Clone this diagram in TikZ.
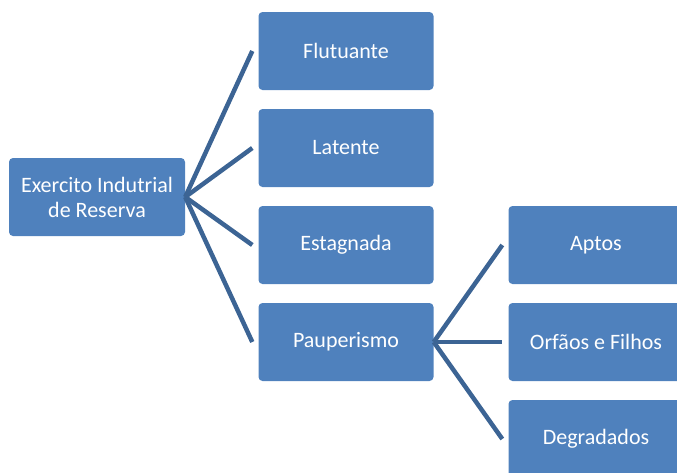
\documentclass[tikz,border=0pt]{standalone}
\usepackage{fontspec}
\setmainfont{Carlito}
\usepackage{tikz}
\definecolor{boxblue}{HTML}{4F81BD}
\definecolor{linkblue}{HTML}{3C6494}

\begin{document}
\begin{tikzpicture}[x=1pt, y=-1pt,
    box/.style={draw=none, fill=boxblue, rounded corners=4pt, text=white,
      minimum width=175pt, minimum height=78pt, inner sep=0pt, align=center,
      font=\fontsize{22}{25}\selectfont},
    link/.style={draw=linkblue, line width=4.5pt}]
    \useasboundingbox (0, 0) rectangle (677, 472);
    \node[box, minimum width=176pt] (res) at (97, 197) {Exercito Indutrial\\de Reserva};
    \node[box] (flu) at (346, 51) {Flutuante};
    \node[box] (lat) at (346, 148) {Latente};
    \node[box] (est) at (346, 245) {Estagnada};
    \node[box] (pau) at (346, 342) {Pauperismo};
    \node[box] (apt) at (596, 245) {Aptos};
    \node[box] (orf) at (596, 342) {Orfãos e Filhos};
    \node[box] (deg) at (596, 439) {Degradados};
    \draw[link] (res.east) -- ([xshift=-6pt]flu.west);
    \draw[link] (res.east) -- ([xshift=-6pt]lat.west);
    \draw[link] (res.east) -- ([xshift=-6pt]est.west);
    \draw[link] (res.east) -- ([xshift=-6pt]pau.west);
    \draw[link] (pau.east) -- ([xshift=-6pt]apt.west);
    \draw[link] (pau.east) -- ([xshift=-6pt]orf.west);
    \draw[link] (pau.east) -- ([xshift=-6pt]deg.west);
  \end{tikzpicture}
\end{document}
